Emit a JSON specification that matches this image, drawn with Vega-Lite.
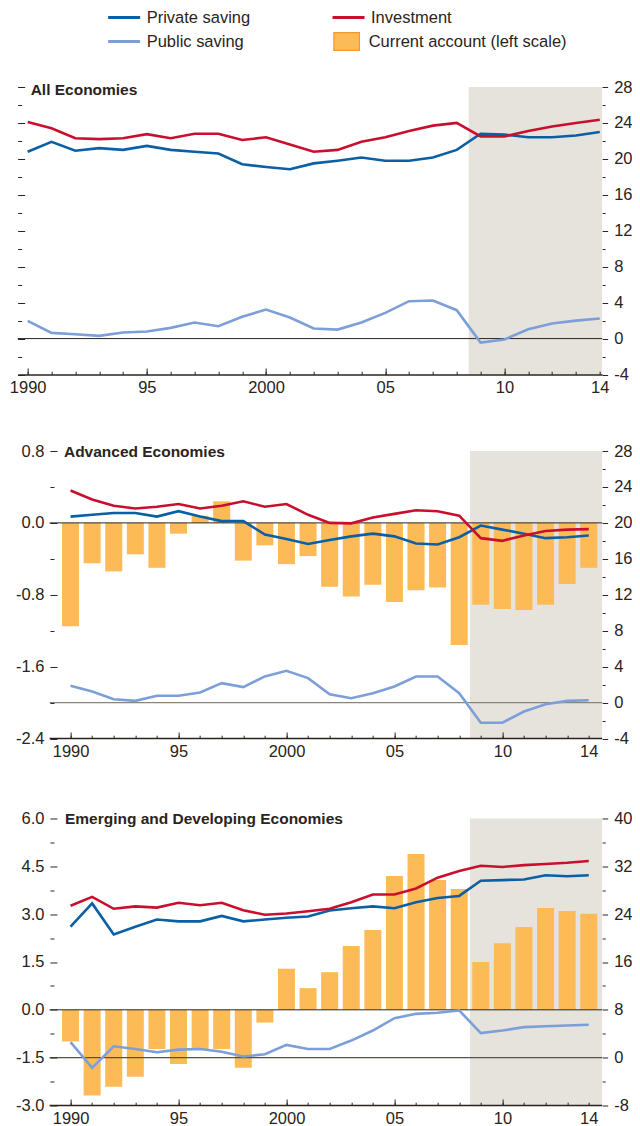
{
  "$schema": "https://vega.github.io/schema/vega-lite/v6.json",
  "padding": {"left": 8.65, "top": 5, "right": 0, "bottom": 0},
  "config": {
    "view": {"stroke": null},
    "font": "Liberation Sans, Arial, sans-serif",
    "axis": {"labelFont": "Liberation Sans, Arial, sans-serif", "labelFontSize": 16.5, "labelColor": "#2a2420", "tickColor": "#2a2420", "domainColor": "#2a2420", "tickWidth": 1, "grid": false, "labelFlush": false, "labelOverlap": false},
    "legend": {"labelFont": "Liberation Sans, Arial, sans-serif", "labelFontSize": 16.5, "labelColor": "#2a2420", "labelOffset": 5, "labelLimit": 0, "padding": 0, "rowPadding": 0, "clipHeight": 24, "symbolSize": 1024},
    "title": {"font": "Liberation Sans, Arial, sans-serif", "fontSize": 15.5, "fontWeight": "bold", "color": "#2a2420", "anchor": "start", "frame": "group", "offset": -19, "baseline": "middle"}
  },
  "datasets": {
    "all": [
      {"year": 1990, "Private saving": 20.8, "Investment": 24.1, "Public saving": 1.97},
      {"year": 1991, "Private saving": 21.9, "Investment": 23.4, "Public saving": 0.63},
      {"year": 1992, "Private saving": 20.9, "Investment": 22.3, "Public saving": 0.48},
      {"year": 1993, "Private saving": 21.2, "Investment": 22.2, "Public saving": 0.3},
      {"year": 1994, "Private saving": 21.0, "Investment": 22.3, "Public saving": 0.67},
      {"year": 1995, "Private saving": 21.45, "Investment": 22.75, "Public saving": 0.78},
      {"year": 1996, "Private saving": 21.0, "Investment": 22.3, "Public saving": 1.19},
      {"year": 1997, "Private saving": 20.8, "Investment": 22.8, "Public saving": 1.78},
      {"year": 1998, "Private saving": 20.6, "Investment": 22.8, "Public saving": 1.38},
      {"year": 1999, "Private saving": 19.4, "Investment": 22.1, "Public saving": 2.42},
      {"year": 2000, "Private saving": 19.1, "Investment": 22.4, "Public saving": 3.23},
      {"year": 2001, "Private saving": 18.85, "Investment": 21.6, "Public saving": 2.34},
      {"year": 2002, "Private saving": 19.5, "Investment": 20.8, "Public saving": 1.12},
      {"year": 2003, "Private saving": 19.8, "Investment": 21.0, "Public saving": 1.0},
      {"year": 2004, "Private saving": 20.15, "Investment": 21.9, "Public saving": 1.78},
      {"year": 2005, "Private saving": 19.8, "Investment": 22.4, "Public saving": 2.86},
      {"year": 2006, "Private saving": 19.8, "Investment": 23.1, "Public saving": 4.16},
      {"year": 2007, "Private saving": 20.15, "Investment": 23.7, "Public saving": 4.24},
      {"year": 2008, "Private saving": 21.0, "Investment": 24.0, "Public saving": 3.16},
      {"year": 2009, "Private saving": 22.8, "Investment": 22.5, "Public saving": -0.45},
      {"year": 2010, "Private saving": 22.7, "Investment": 22.5, "Public saving": -0.1},
      {"year": 2011, "Private saving": 22.4, "Investment": 23.1, "Public saving": 1.04},
      {"year": 2012, "Private saving": 22.4, "Investment": 23.6, "Public saving": 1.67},
      {"year": 2013, "Private saving": 22.6, "Investment": 24.0, "Public saving": 2.0},
      {"year": 2014, "Private saving": 23.0, "Investment": 24.35, "Public saving": 2.23}
    ],
    "adv": [
      {"year": 1990, "Private saving": 20.7, "Investment": 23.6, "Public saving": 1.87, "ca": -1.15},
      {"year": 1991, "Private saving": 20.9, "Investment": 22.6, "Public saving": 1.23, "ca": -0.45},
      {"year": 1992, "Private saving": 21.1, "Investment": 21.9, "Public saving": 0.37, "ca": -0.54},
      {"year": 1993, "Private saving": 21.1, "Investment": 21.6, "Public saving": 0.19, "ca": -0.35},
      {"year": 1994, "Private saving": 20.7, "Investment": 21.8, "Public saving": 0.75, "ca": -0.5},
      {"year": 1995, "Private saving": 21.3, "Investment": 22.1, "Public saving": 0.75, "ca": -0.12},
      {"year": 1996, "Private saving": 20.7, "Investment": 21.6, "Public saving": 1.12, "ca": 0.08},
      {"year": 1997, "Private saving": 20.2, "Investment": 21.9, "Public saving": 2.16, "ca": 0.24},
      {"year": 1998, "Private saving": 20.2, "Investment": 22.4, "Public saving": 1.72, "ca": -0.42},
      {"year": 1999, "Private saving": 18.7, "Investment": 21.8, "Public saving": 2.91, "ca": -0.25},
      {"year": 2000, "Private saving": 18.2, "Investment": 22.1, "Public saving": 3.54, "ca": -0.46},
      {"year": 2001, "Private saving": 17.65, "Investment": 20.9, "Public saving": 2.72, "ca": -0.37},
      {"year": 2002, "Private saving": 18.1, "Investment": 20.0, "Public saving": 0.93, "ca": -0.71},
      {"year": 2003, "Private saving": 18.5, "Investment": 19.95, "Public saving": 0.48, "ca": -0.82},
      {"year": 2004, "Private saving": 18.8, "Investment": 20.6, "Public saving": 1.04, "ca": -0.69},
      {"year": 2005, "Private saving": 18.5, "Investment": 21.0, "Public saving": 1.79, "ca": -0.88},
      {"year": 2006, "Private saving": 17.7, "Investment": 21.4, "Public saving": 2.9, "ca": -0.75},
      {"year": 2007, "Private saving": 17.6, "Investment": 21.3, "Public saving": 2.9, "ca": -0.72},
      {"year": 2008, "Private saving": 18.4, "Investment": 20.8, "Public saving": 1.04, "ca": -1.36},
      {"year": 2009, "Private saving": 19.7, "Investment": 18.3, "Public saving": -2.24, "ca": -0.91},
      {"year": 2010, "Private saving": 19.25, "Investment": 18.0, "Public saving": -2.24, "ca": -0.96},
      {"year": 2011, "Private saving": 18.8, "Investment": 18.6, "Public saving": -1.0, "ca": -0.97},
      {"year": 2012, "Private saving": 18.3, "Investment": 19.1, "Public saving": -0.19, "ca": -0.91},
      {"year": 2013, "Private saving": 18.4, "Investment": 19.25, "Public saving": 0.19, "ca": -0.68},
      {"year": 2014, "Private saving": 18.6, "Investment": 19.3, "Public saving": 0.26, "ca": -0.5}
    ],
    "emd": [
      {"year": 1990, "Private saving": 21.9, "Investment": 25.4, "Public saving": 2.6, "ca": -0.99},
      {"year": 1991, "Private saving": 25.8, "Investment": 26.9, "Public saving": -1.7, "ca": -2.69},
      {"year": 1992, "Private saving": 20.6, "Investment": 24.9, "Public saving": 1.9, "ca": -2.41},
      {"year": 1993, "Private saving": 21.9, "Investment": 25.3, "Public saving": 1.46, "ca": -2.1},
      {"year": 1994, "Private saving": 23.1, "Investment": 25.1, "Public saving": 0.9, "ca": -1.23},
      {"year": 1995, "Private saving": 22.8, "Investment": 25.9, "Public saving": 1.35, "ca": -1.7},
      {"year": 1996, "Private saving": 22.8, "Investment": 25.5, "Public saving": 1.46, "ca": -1.23},
      {"year": 1997, "Private saving": 23.7, "Investment": 25.9, "Public saving": 1.0, "ca": -1.23},
      {"year": 1998, "Private saving": 22.8, "Investment": 24.65, "Public saving": 0.2, "ca": -1.82},
      {"year": 1999, "Private saving": 23.1, "Investment": 23.9, "Public saving": 0.56, "ca": -0.4},
      {"year": 2000, "Private saving": 23.4, "Investment": 24.1, "Public saving": 2.13, "ca": 1.29},
      {"year": 2001, "Private saving": 23.6, "Investment": 24.5, "Public saving": 1.46, "ca": 0.68},
      {"year": 2002, "Private saving": 24.6, "Investment": 24.9, "Public saving": 1.46, "ca": 1.18},
      {"year": 2003, "Private saving": 25.0, "Investment": 26.0, "Public saving": 2.86, "ca": 2.0},
      {"year": 2004, "Private saving": 25.3, "Investment": 27.3, "Public saving": 4.54, "ca": 2.5},
      {"year": 2005, "Private saving": 25.0, "Investment": 27.3, "Public saving": 6.6, "ca": 4.2},
      {"year": 2006, "Private saving": 26.0, "Investment": 28.3, "Public saving": 7.33, "ca": 4.89},
      {"year": 2007, "Private saving": 26.7, "Investment": 30.1, "Public saving": 7.5, "ca": 4.07},
      {"year": 2008, "Private saving": 27.05, "Investment": 31.2, "Public saving": 7.9, "ca": 3.79},
      {"year": 2009, "Private saving": 29.6, "Investment": 32.1, "Public saving": 4.1, "ca": 1.5},
      {"year": 2010, "Private saving": 29.7, "Investment": 31.9, "Public saving": 4.54, "ca": 2.09},
      {"year": 2011, "Private saving": 29.8, "Investment": 32.2, "Public saving": 5.1, "ca": 2.6},
      {"year": 2012, "Private saving": 30.5, "Investment": 32.4, "Public saving": 5.26, "ca": 3.19},
      {"year": 2013, "Private saving": 30.35, "Investment": 32.6, "Public saving": 5.37, "ca": 3.1},
      {"year": 2014, "Private saving": 30.5, "Investment": 32.9, "Public saving": 5.5, "ca": 3.01}
    ]
  },
  "bounds": "flush",
  "spacing": 76,
  "vconcat": [
    {
      "width": 584.5,
      "height": 287.5,
      "title": {"text": "All Economies", "dx": 13},
      "resolve": {"scale": {"y": "independent"}, "axis": {"x": "independent", "y": "independent"}},
      "layer": [
        {
          "data": {"values": [{}]},
          "mark": {"type": "rect", "color": "#e6e2dc"},
          "encoding": {
            "x": {"datum": 2008.5, "type": "quantitative", "scale": {"domain": [1989.58, 2014.1], "nice": false, "zero": false, "padding": 0},
              "axis": {"orient": "bottom", "values": [1990, 1995, 2000, 2005, 2010], "tickSize": -6.5, "labels": false, "domain": false, "title": null, "zindex": 1}},
            "x2": {"datum": 2014.1}
          }
        },
        {
          "data": {"values": [{}]},
          "mark": {"type": "rule", "color": "#2a2420", "strokeWidth": 1},
          "encoding": {
            "x": {"datum": 1989.58, "type": "quantitative", "scale": {"domain": [1989.58, 2014.1], "nice": false, "zero": false, "padding": 0}, "axis": null},
            "x2": {"datum": 2014.1},
            "y": {"datum": 0, "type": "quantitative", "scale": {"domain": [-4, 28], "nice": false, "zero": false},
              "axis": {"orient": "right", "values": [-2, 2, 6, 10, 14, 18, 22, 26], "tickSize": 3, "labels": false, "domain": false, "title": null, "zindex": 1}}}
        },
        {
          "data": {"values": [{}]},
          "mark": {"type": "rule", "opacity": 0},
          "encoding": {
            "x": {"datum": 1989.58, "type": "quantitative", "scale": {"domain": [1989.58, 2014.1], "nice": false, "zero": false, "padding": 0}, "axis": null},
            "x2": {"datum": 2014.1},
            "y": {"datum": 0, "type": "quantitative", "scale": {"domain": [-4, 28], "nice": false, "zero": false},
              "axis": {"orient": "left", "values": [-4, 0, 4, 8, 12, 16, 20, 24, 28], "tickSize": -7, "labels": false, "domain": false, "title": null, "zindex": 1}}}
        },
        {
          "data": {"values": [{}]},
          "mark": {"type": "rule", "opacity": 0},
          "encoding": {
            "x": {"datum": 1989.58, "type": "quantitative", "scale": {"domain": [1989.58, 2014.1], "nice": false, "zero": false, "padding": 0}, "axis": null},
            "x2": {"datum": 2014.1},
            "y": {"datum": 0, "type": "quantitative", "scale": {"domain": [-4, 28], "nice": false, "zero": false},
              "axis": {"orient": "left", "values": [-2, 2, 6, 10, 14, 18, 22, 26], "tickSize": -4, "labels": false, "domain": false, "title": null, "zindex": 1}}}
        },
        {
          "data": {"name": "all"},
          "transform": [{"fold": ["Private saving", "Investment", "Public saving"]}],
          "mark": {"type": "line", "strokeWidth": 2.6},
          "encoding": {
            "x": {"field": "year", "type": "quantitative", "scale": {"domain": [1989.58, 2014.1], "nice": false, "zero": false, "padding": 0},
              "axis": {"orient": "bottom", "values": [1990, 1991, 1992, 1993, 1994, 1995, 1996, 1997, 1998, 1999, 2000, 2001, 2002, 2003, 2004, 2005, 2006, 2007, 2008, 2009, 2010, 2011, 2012, 2013, 2014], "tickSize": -3.3, "domain": true, "domainWidth": 1.3, "labelPadding": 8.5, "title": null, "zindex": 1,
                "labelExpr": "datum.value == 1990 ? '1990' : datum.value == 1995 ? '95' : datum.value == 2000 ? '2000' : datum.value == 2005 ? '05' : datum.value == 2010 ? '10' : datum.value == 2014 ? '14' : ''"}},
            "y": {"field": "value", "type": "quantitative", "scale": {"domain": [-4, 28], "nice": false, "zero": false},
              "axis": {"orient": "right", "values": [-4, 0, 4, 8, 12, 16, 20, 24, 28], "tickSize": 5.5, "labelPadding": 6, "domain": false, "title": null, "zindex": 1, "labelExpr": "replace(datum.label, '−', '-')"}},
            "stroke": {"field": "key", "type": "nominal",
              "scale": {"domain": ["Private saving", "Investment", "Public saving"], "range": ["#0b5fa5", "#c8102e", "#7d9fd9"]},
              "legend": {"orient": "none", "legendX": 89, "legendY": -81.5, "columns": 2, "direction": "horizontal", "title": null, "symbolType": "stroke", "symbolStrokeWidth": 3, "columnPadding": 80.4}}
          }
        }
      ]
    },
    {
      "spacing": 79.5,
      "bounds": "flush",
      "vconcat": [
        {
          "width": 584.5,
          "height": 287.5,
          "title": {"text": "Advanced Economies", "dx": 46.3, "offset": -17},
          "resolve": {"scale": {"y": "independent"}, "axis": {"x": "independent", "y": "independent"}},
          "layer": [
            {
              "data": {"values": [{}]},
              "mark": {"type": "rect", "color": "#e6e2dc"},
              "encoding": {
                "x": {"datum": 2008.5, "type": "quantitative", "scale": {"domain": [1987.55, 2014.62], "nice": false, "zero": false, "padding": 0},
                  "axis": {"orient": "bottom", "values": [1990, 1995, 2000, 2005, 2010], "tickSize": -6.5, "labels": false, "domain": false, "title": null, "zindex": 1}},
                "x2": {"datum": 2014.62}
              }
            },
            {
              "data": {"name": "adv"},
              "mark": {"type": "bar", "width": 17},
              "encoding": {
                "x": {"field": "year", "type": "quantitative", "scale": {"domain": [1987.55, 2014.62], "nice": false, "zero": false, "padding": 0}, "axis": null},
                "y": {"field": "ca", "type": "quantitative", "scale": {"domain": [-2.4, 0.8], "nice": false, "zero": false},
                  "axis": {"orient": "left", "offset": -32.3, "values": [-2.4, -1.6, -0.8, 0, 0.8], "tickSize": -7, "labelPadding": 13, "domain": false, "title": null, "zindex": 1, "labelExpr": "replace(format(datum.value, '.1f'), '−', '-')"}},
                "fill": {"datum": "Current account (left scale)", "type": "nominal",
                  "scale": {"domain": ["Current account (left scale)"], "range": ["#fcbb57"]},
                  "legend": {"orient": "none", "legendX": 312, "legendY": -57.5, "title": null, "symbolType": "M-0.8,-0.55H0.8V0.55H-0.8Z", "symbolStrokeColor": "#f39a2c", "symbolStrokeWidth": 1.2}}
              }
            },
            {
              "data": {"values": [{}]},
              "mark": {"type": "rule", "color": "#2a2420", "strokeWidth": 1},
              "encoding": {
                "x": {"datum": 1989.03, "type": "quantitative", "scale": {"domain": [1987.55, 2014.62], "nice": false, "zero": false, "padding": 0}, "axis": null},
                "x2": {"datum": 2014.62},
                "y": {"datum": 0, "type": "quantitative", "scale": {"domain": [-2.4, 0.8], "nice": false, "zero": false},
                  "axis": {"orient": "left", "offset": -32.3, "values": [-2.0, -1.2, -0.4, 0.4], "tickSize": -4, "labels": false, "domain": false, "title": null, "zindex": 1}}}
            },
            {
              "data": {"values": [{}]},
              "mark": {"type": "rule", "color": "#8a847c", "strokeWidth": 1.2},
              "encoding": {
                "x": {"datum": 1989.03, "type": "quantitative", "scale": {"domain": [1987.55, 2014.62], "nice": false, "zero": false, "padding": 0}, "axis": null},
                "x2": {"datum": 2014.62},
                "y": {"datum": 0, "type": "quantitative", "scale": {"domain": [-4, 28], "nice": false, "zero": false},
                  "axis": {"orient": "right", "values": [-2, 2, 6, 10, 14, 18, 22, 26], "tickSize": 3, "labels": false, "domain": false, "title": null, "zindex": 1}}}
            },
            {
              "data": {"values": [{}]},
              "mark": {"type": "rule", "color": "#2a2420", "strokeWidth": 1.3},
              "encoding": {
                "x": {"datum": 1989.03, "type": "quantitative", "scale": {"domain": [1987.55, 2014.62], "nice": false, "zero": false, "padding": 0}, "axis": null},
                "x2": {"datum": 2014.62},
                "y": {"datum": -4, "type": "quantitative", "scale": {"domain": [-4, 28], "nice": false, "zero": false}, "axis": null}}
            },
            {
              "data": {"name": "adv"},
              "transform": [{"fold": ["Private saving", "Investment", "Public saving"]}],
              "mark": {"type": "line", "strokeWidth": 2.6},
              "encoding": {
                "x": {"field": "year", "type": "quantitative", "scale": {"domain": [1987.55, 2014.62], "nice": false, "zero": false, "padding": 0},
                  "axis": {"orient": "bottom", "values": [1990, 1991, 1992, 1993, 1994, 1995, 1996, 1997, 1998, 1999, 2000, 2001, 2002, 2003, 2004, 2005, 2006, 2007, 2008, 2009, 2010, 2011, 2012, 2013, 2014], "tickSize": -3.3, "domain": false, "labelPadding": 8.5, "title": null, "zindex": 1,
                    "labelExpr": "datum.value == 1990 ? '1990' : datum.value == 1995 ? '95' : datum.value == 2000 ? '2000' : datum.value == 2005 ? '05' : datum.value == 2010 ? '10' : datum.value == 2014 ? '14' : ''"}},
                "y": {"field": "value", "type": "quantitative", "scale": {"domain": [-4, 28], "nice": false, "zero": false},
                  "axis": {"orient": "right", "values": [-4, 0, 4, 8, 12, 16, 20, 24, 28], "tickSize": 5.5, "labelPadding": 6, "domain": false, "title": null, "zindex": 1, "labelExpr": "replace(datum.label, '−', '-')"}},
                "stroke": {"field": "key", "type": "nominal", "legend": null}
              }
            }
          ]
        },
        {
          "width": 584.5,
          "height": 287,
          "title": {"text": "Emerging and Developing Economies", "dx": 47.3, "offset": -17},
          "resolve": {"scale": {"y": "independent"}, "axis": {"x": "independent", "y": "independent"}},
          "layer": [
            {
              "data": {"values": [{}]},
              "mark": {"type": "rect", "color": "#e6e2dc"},
              "encoding": {
                "x": {"datum": 2008.5, "type": "quantitative", "scale": {"domain": [1987.55, 2014.62], "nice": false, "zero": false, "padding": 0},
                  "axis": {"orient": "bottom", "values": [1990, 1995, 2000, 2005, 2010], "tickSize": -6.5, "labels": false, "domain": false, "title": null, "zindex": 1}},
                "x2": {"datum": 2014.62}
              }
            },
            {
              "data": {"name": "emd"},
              "mark": {"type": "bar", "width": 17},
              "encoding": {
                "x": {"field": "year", "type": "quantitative", "scale": {"domain": [1987.55, 2014.62], "nice": false, "zero": false, "padding": 0}, "axis": null},
                "y": {"field": "ca", "type": "quantitative", "scale": {"domain": [-3, 6], "nice": false, "zero": false},
                  "axis": {"orient": "left", "offset": -32.3, "values": [-3, -1.5, 0, 1.5, 3, 4.5, 6], "tickSize": -7, "labelPadding": 13, "domain": false, "title": null, "zindex": 1, "labelExpr": "replace(format(datum.value, '.1f'), '−', '-')"}},
                "fill": {"datum": "Current account (left scale)", "type": "nominal", "legend": null}
              }
            },
            {
              "data": {"values": [{}]},
              "mark": {"type": "rule", "color": "#2a2420", "strokeWidth": 1},
              "encoding": {
                "x": {"datum": 1989.03, "type": "quantitative", "scale": {"domain": [1987.55, 2014.62], "nice": false, "zero": false, "padding": 0}, "axis": null},
                "x2": {"datum": 2014.62},
                "y": {"datum": 0, "type": "quantitative", "scale": {"domain": [-3, 6], "nice": false, "zero": false},
                  "axis": {"orient": "left", "offset": -32.3, "values": [-2.25, -0.75, 0.75, 2.25, 3.75, 5.25], "tickSize": -4, "labels": false, "domain": false, "title": null, "zindex": 1}}}
            },
            {
              "data": {"values": [{}]},
              "mark": {"type": "rule", "color": "#55504a", "strokeWidth": 1.2},
              "encoding": {
                "x": {"datum": 1989.03, "type": "quantitative", "scale": {"domain": [1987.55, 2014.62], "nice": false, "zero": false, "padding": 0}, "axis": null},
                "x2": {"datum": 2014.62},
                "y": {"datum": 0, "type": "quantitative", "scale": {"domain": [-8, 40], "nice": false, "zero": false},
                  "axis": {"orient": "right", "values": [-4, 4, 12, 20, 28, 36], "tickSize": 3, "labels": false, "domain": false, "title": null, "zindex": 1}}}
            },
            {
              "data": {"values": [{}]},
              "mark": {"type": "rule", "color": "#2a2420", "strokeWidth": 1.3},
              "encoding": {
                "x": {"datum": 1989.03, "type": "quantitative", "scale": {"domain": [1987.55, 2014.62], "nice": false, "zero": false, "padding": 0}, "axis": null},
                "x2": {"datum": 2014.62},
                "y": {"datum": -8, "type": "quantitative", "scale": {"domain": [-8, 40], "nice": false, "zero": false}, "axis": null}}
            },
            {
              "data": {"name": "emd"},
              "transform": [{"fold": ["Private saving", "Investment", "Public saving"]}],
              "mark": {"type": "line", "strokeWidth": 2.6},
              "encoding": {
                "x": {"field": "year", "type": "quantitative", "scale": {"domain": [1987.55, 2014.62], "nice": false, "zero": false, "padding": 0},
                  "axis": {"orient": "bottom", "values": [1990, 1991, 1992, 1993, 1994, 1995, 1996, 1997, 1998, 1999, 2000, 2001, 2002, 2003, 2004, 2005, 2006, 2007, 2008, 2009, 2010, 2011, 2012, 2013, 2014], "tickSize": -3.3, "domain": false, "labelPadding": 8.5, "title": null, "zindex": 1,
                    "labelExpr": "datum.value == 1990 ? '1990' : datum.value == 1995 ? '95' : datum.value == 2000 ? '2000' : datum.value == 2005 ? '05' : datum.value == 2010 ? '10' : datum.value == 2014 ? '14' : ''"}},
                "y": {"field": "value", "type": "quantitative", "scale": {"domain": [-8, 40], "nice": false, "zero": false},
                  "axis": {"orient": "right", "values": [-8, 0, 8, 16, 24, 32, 40], "tickSize": 5.5, "labelPadding": 6, "domain": false, "title": null, "zindex": 1, "labelExpr": "replace(datum.label, '−', '-')"}},
                "stroke": {"field": "key", "type": "nominal", "legend": null}
              }
            }
          ]
        }
      ]
    }
  ]
}
